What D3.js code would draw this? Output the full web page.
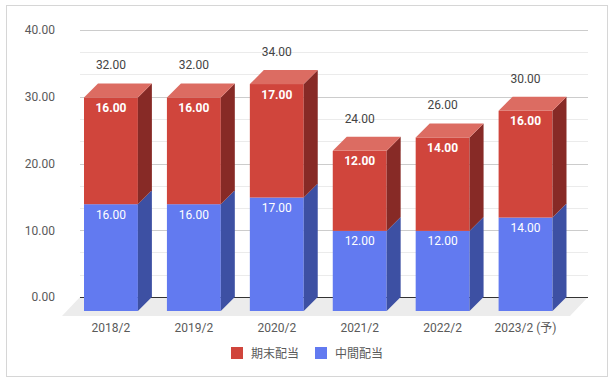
<!DOCTYPE html>
<html>
<head>
<meta charset="utf-8">
<script src="https://cdn.jsdelivr.net/npm/d3@7"></script>
<style>
  body { margin: 0; background: #fff; }
  svg { font-family: Roboto, "Noto Sans CJK JP", sans-serif; }
</style>
</head>
<body>
<div id="chart"></div>
<script>
var categories = ["2018/2", "2019/2", "2020/2", "2021/2", "2022/2", "2023/2 (予)"];
var interim = [16, 16, 17, 12, 12, 14];   // 中間配当
var yearEnd = [16, 16, 17, 12, 14, 16];   // 期末配当
var yTicks = [0, 10, 20, 30, 40];
var seriesNames = ["期末配当", "中間配当"];

var W = 614, H = 383;
var depth = 14;               // bar depth offset
var floorDx = -18, floorDy = 19;
var backLeft = 80, backRight = 588;

var colors = {
  red: { front: "#d0453c", side: "#872a26", top: "#dc6c62" },
  blue: { front: "#627af0", side: "#3d50a3", top: "#8497f4" }
};

var svg = d3.select("#chart").append("svg")
  .attr("width", W)
  .attr("height", H);

// frame
svg.append("rect")
  .attr("x", 6.5).attr("y", 5.5)
  .attr("width", 601).attr("height", 371)
  .attr("fill", "#fff")
  .attr("stroke", "#d6d6d6");

var y = d3.scaleLinear().domain([0, 40]).range([297, 30]);

// front faces band
var x = d3.scaleBand()
  .domain(categories)
  .range([84, 552.5])
  .paddingInner(0.35)
  .paddingOuter(0);

// minor + major gridlines on back plane
var minor = [];
for (var t = 0; t < 40; t += 10) { minor.push(t + 10 / 3, t + 20 / 3); }

svg.append("g").selectAll("line.minor")
  .data(minor)
  .enter().append("line")
  .attr("x1", backLeft).attr("x2", backRight)
  .attr("y1", function(d) { return Math.round(y(d)) + 0.5; })
  .attr("y2", function(d) { return Math.round(y(d)) + 0.5; })
  .attr("stroke", "#ebebeb");

svg.append("g").selectAll("line.major")
  .data(yTicks.slice(1))
  .enter().append("line")
  .attr("x1", backLeft).attr("x2", backRight)
  .attr("y1", function(d) { return Math.round(y(d)) + 0.5; })
  .attr("y2", function(d) { return Math.round(y(d)) + 0.5; })
  .attr("stroke", "#cccccc");

// floor
var y0 = y(0);
svg.append("polygon")
  .attr("points", [
    [backLeft, y0], [backRight, y0],
    [backRight + floorDx, y0 + floorDy], [backLeft + floorDx, y0 + floorDy]
  ].join(" "))
  .attr("fill", "#ececec");

svg.append("line")
  .attr("x1", backLeft).attr("x2", backRight)
  .attr("y1", Math.round(y0) + 0.5).attr("y2", Math.round(y0) + 0.5)
  .attr("stroke", "#333");

// y axis labels
var yAxis = d3.axisLeft(y)
  .tickValues(yTicks)
  .tickFormat(d3.format(".2f"))
  .tickSize(0)
  .tickPadding(25);

var gy = svg.append("g")
  .attr("transform", "translate(" + backLeft + ",0)")
  .call(yAxis);
gy.select(".domain").remove();
gy.selectAll("text")
  .attr("font-family", "Roboto, sans-serif")
  .attr("font-size", 12)
  .attr("fill", "#5a5a5a");

// bars
function quad(pts) { return pts.map(function(p) { return p.join(","); }).join(" "); }

var bars = svg.append("g").selectAll("g.bar")
  .data(categories)
  .enter().append("g")
  .attr("class", "bar");

bars.each(function(c, i) {
  var g = d3.select(this);
  var x0 = x(c), bw = x.bandwidth();
  var yb = y(0) + depth;
  var ym = y(interim[i]) + depth;
  var yt = y(interim[i] + yearEnd[i]) + depth;

  // blue segment
  g.append("rect")
    .attr("x", x0).attr("y", ym)
    .attr("width", bw).attr("height", yb - ym)
    .attr("fill", colors.blue.front);
  g.append("polygon")
    .attr("points", quad([[x0 + bw, yb], [x0 + bw, ym], [x0 + bw + depth, ym - depth], [x0 + bw + depth, yb - depth]]))
    .attr("fill", colors.blue.side);

  // red segment
  g.append("rect")
    .attr("x", x0).attr("y", yt)
    .attr("width", bw).attr("height", ym - yt)
    .attr("fill", colors.red.front);
  g.append("polygon")
    .attr("points", quad([[x0 + bw, ym], [x0 + bw, yt], [x0 + bw + depth, yt - depth], [x0 + bw + depth, ym - depth]]))
    .attr("fill", colors.red.side);
  g.append("polygon")
    .attr("points", quad([[x0, yt], [x0 + bw, yt], [x0 + bw + depth, yt - depth], [x0 + depth, yt - depth]]))
    .attr("fill", colors.red.top);

  var cx = x0 + bw / 2;
  g.append("text")
    .attr("x", cx).attr("y", ym + 14.5)
    .attr("text-anchor", "middle")
    .attr("font-size", 12)
    .attr("fill", "#fff")
    .text(d3.format(".2f")(interim[i]));
  g.append("text")
    .attr("x", cx).attr("y", yt + 14.5)
    .attr("text-anchor", "middle")
    .attr("font-size", 12)
    .attr("font-weight", "bold")
    .attr("fill", "#fff")
    .text(d3.format(".2f")(yearEnd[i]));
  g.append("text")
    .attr("x", cx).attr("y", yt - depth - 14)
    .attr("text-anchor", "middle")
    .attr("font-size", 12)
    .attr("fill", "#444")
    .text(d3.format(".2f")(interim[i] + yearEnd[i]));
});

// x axis labels
var xAxis = d3.axisBottom(x).tickSize(0).tickPadding(12.5);
var gx = svg.append("g")
  .attr("transform", "translate(0," + (y0 + depth) + ")")
  .call(xAxis);
gx.select(".domain").remove();
gx.selectAll("text")
  .attr("font-family", "Roboto, 'Noto Sans CJK JP', sans-serif")
  .attr("font-size", 12)
  .attr("fill", "#5a5a5a");

// legend
var legend = svg.append("g").selectAll("g.legend")
  .data(seriesNames)
  .enter().append("g")
  .attr("transform", function(d, i) { return "translate(" + (231 + i * 84) + ",347)"; });
legend.append("rect")
  .attr("width", 12).attr("height", 12)
  .attr("fill", function(d, i) { return i === 0 ? colors.red.front : colors.blue.front; });
legend.append("text")
  .attr("x", 20).attr("y", 10.5)
  .attr("font-family", "'Noto Sans CJK JP', sans-serif")
  .attr("font-size", 12)
  .attr("fill", "#5a5a5a")
  .text(function(d) { return d; });
</script>
</body>
</html>
